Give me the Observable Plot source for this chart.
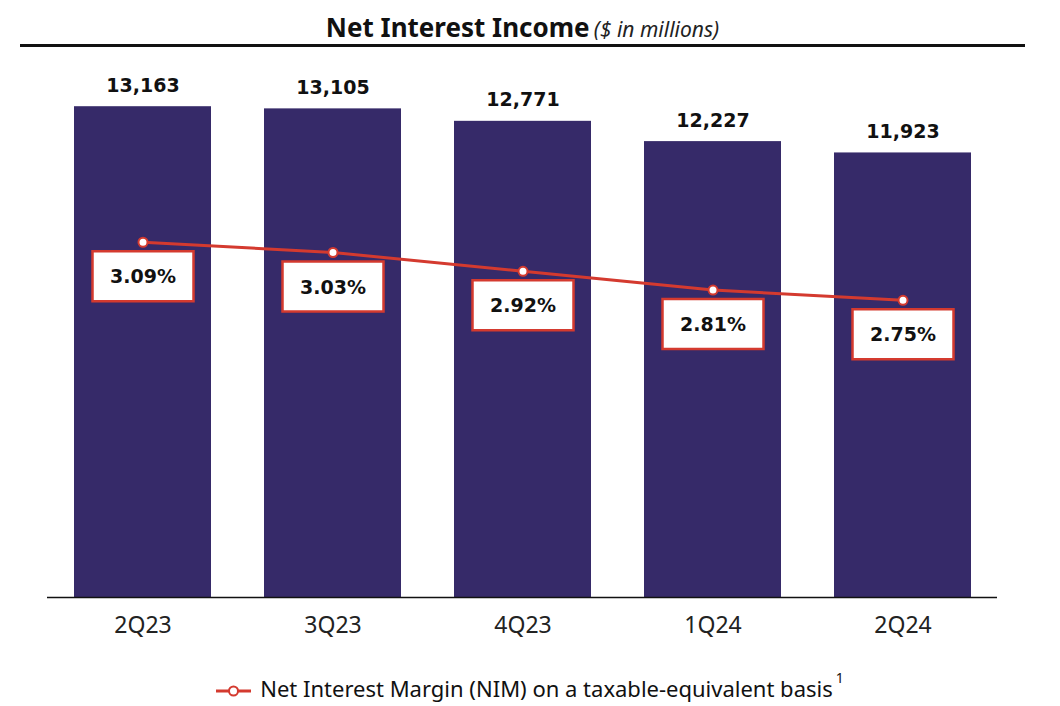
<!DOCTYPE html>
<html>
<head>
<meta charset="utf-8">
<script src="https://cdn.jsdelivr.net/npm/d3@7"></script>
<script src="https://cdn.jsdelivr.net/npm/@observablehq/plot@0.6"></script>
<style>
  html, body { margin: 0; padding: 0; background: #fff; }
  body { width: 1060px; height: 706px; position: relative; overflow: hidden; font-family: "Noto Sans", sans-serif; }
  #title { position: absolute; left: 20px; width: 1005px; top: 9px; text-align: center; color: #111; white-space: nowrap; line-height: 36px; }
  #title .main { font-weight: 700; font-size: 26px; }
  #title .sub { font-style: italic; font-size: 21px; color: #222; }
  #rule { position: absolute; left: 20px; width: 1005px; top: 44px; height: 2.5px; background: #111; }
  #chart { position: absolute; left: 0; top: 50px; }
  #legend { position: absolute; left: 0; width: 1060px; top: 668px; text-align: center; font-family: "Noto Sans", sans-serif; font-size: 22px; color: #111; white-space: nowrap; }
  #legend svg { vertical-align: -1px; margin-right: 9px; }
  #legend sup { font-size: 14px; vertical-align: 14px; margin-left: 3px; }
</style>
</head>
<body>
<div id="title"><span class="main">Net Interest Income</span> <span class="sub">($ in millions)</span></div>
<div id="rule"></div>
<div id="chart"></div>
<div id="legend"></div>
<script>
const quarters = ["2Q23", "3Q23", "4Q23", "1Q24", "2Q24"];
const netInterestIncome = [13163, 13105, 12771, 12227, 11923];
const nimPercent = [3.09, 3.03, 2.92, 2.81, 2.75];
const legendLabel = "Net Interest Margin (NIM) on a taxable-equivalent basis";
const legendNote = "1";

const barColor = "#362a69";
const red = "#d43a2f";

const data = quarters.map((q, i) => ({q, nii: netInterestIncome[i], nim: nimPercent[i]}));

// secondary (NIM) scale mapped onto the bar axis
const nimToY = d3.scaleLinear().domain([2.75, 3.09]).range([7971, 9528]);

const boxSymbol = {
  draw(ctx) {
    const w = 101, h = 50;
    ctx.moveTo(-w / 2, -h / 2);
    ctx.lineTo(w / 2, -h / 2);
    ctx.lineTo(w / 2, h / 2);
    ctx.lineTo(-w / 2, h / 2);
    ctx.closePath();
  }
};

const chart = Plot.plot({
  width: 1060,
  height: 600,
  marginLeft: 47,
  marginRight: 63,
  marginTop: 25,
  marginBottom: 53,
  x: {domain: quarters, paddingInner: 0.28, paddingOuter: 0.14, label: null},
  y: {domain: [0, 14000], axis: null},
  style: {background: "white"},
  marks: [
    Plot.barY(data, {x: "q", y: "nii", fill: barColor}),
    Plot.ruleY([0], {stroke: "#111", strokeWidth: 1.5}),
    Plot.axisX({tickSize: 0, tickPadding: 19, fontSize: 23, fontFamily: "'Noto Sans', sans-serif", fill: "#222", label: null}),
    Plot.text(data, {x: "q", y: "nii", text: d => d3.format(",")(d.nii), dy: -21, fontSize: 19, fontWeight: "bold", fontFamily: "DejaVu Sans", fill: "#111"}),
    Plot.line(data, {x: "q", y: d => nimToY(d.nim), stroke: red, strokeWidth: 3}),
    Plot.dot(data, {x: "q", y: d => nimToY(d.nim), symbol: boxSymbol, fill: "white", stroke: red, strokeWidth: 2.5, dy: 34}),
    Plot.text(data, {x: "q", y: d => nimToY(d.nim), text: d => d.nim.toFixed(2) + "%", dy: 35, fontSize: 19, fontWeight: "bold", fontFamily: "DejaVu Sans", fill: "#111"}),
    Plot.dot(data, {x: "q", y: d => nimToY(d.nim), r: 4.5, fill: "white", stroke: red, strokeWidth: 2})
  ]
});
document.getElementById("chart").appendChild(chart);

document.getElementById("legend").innerHTML =
  `<svg width="35" height="14"><line x1="0" y1="7" x2="35" y2="7" stroke="${red}" stroke-width="3"/><circle cx="17.5" cy="7" r="4.5" fill="white" stroke="${red}" stroke-width="2"/></svg>` +
  `<span>${legendLabel}</span><sup>${legendNote}</sup>`;
</script>
</body>
</html>
